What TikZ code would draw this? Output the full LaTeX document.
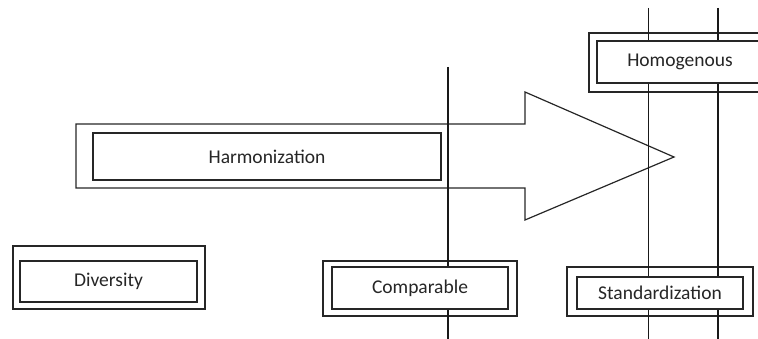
\documentclass[tikz,border=0pt]{standalone}
\usepackage{fontspec}
\setmainfont{Carlito}
\begin{document}
\begin{tikzpicture}[x=1pt,y=-1pt,
  outerbox/.style={draw=black!85,line width=1.2pt,rectangle,inner sep=0pt},
  innerbox/.style={draw=black!85,line width=1.2pt,rectangle,fill=white,inner sep=0pt,
    font=\fontsize{19.5}{22}\selectfont,text=black!85},
  vline/.style={draw=black!90,line width=1.2pt},
  arrowshape/.style={draw=black!85,line width=1.2pt}]
\useasboundingbox (0,0) rectangle (758,339);
\clip (0,0) rectangle (758,339);
% outer frames
\node[outerbox,minimum width=192pt,minimum height=63pt] (divO) at (109,277.5) {};
\node[outerbox,minimum width=194pt,minimum height=55pt] (compO) at (420,288.5) {};
\node[outerbox,minimum width=182pt,minimum height=59pt] (homO) at (680,62.5) {};
\node[outerbox,minimum width=186pt,minimum height=49pt] (stdO) at (660,291.5) {};
% harmonization arrow
\coordinate (a1) at (76,124);
\coordinate (a2) at (525,124);
\coordinate (a3) at (525,92);
\coordinate (tip) at (674,157);
\coordinate (a5) at (525,220);
\coordinate (a6) at (525,188);
\coordinate (a7) at (76,188);
\draw[arrowshape,line join=miter] (a1) -- (a2) -- (a3) -- (tip) -- (a5) -- (a6) -- (a7) -- cycle;
% vertical lines
\coordinate (v1t) at (448,67);
\coordinate (v1b) at (448,339);
\coordinate (v2t) at (648.5,8);
\coordinate (v2b) at (648.5,339);
\coordinate (v3t) at (718,8);
\coordinate (v3b) at (718,339);
\draw[vline] (v1t) -- (v1b);
\draw[vline] (v2t) -- (v2b);
\draw[vline] (v3t) -- (v3b);
% inner boxes with text
\node[innerbox,minimum width=348pt,minimum height=47pt] (harm) at (267,156.5) {Harmonization};
\node[innerbox,minimum width=177pt,minimum height=41pt] (div) at (108.5,281.5) {Diversity};
\node[innerbox,minimum width=176pt,minimum height=42pt] (comp) at (420,288) {Comparable};
\node[innerbox,minimum width=166pt,minimum height=42pt] (hom) at (680,62) {Homogenous};
\node[innerbox,minimum width=166pt,minimum height=32pt] (std) at (660,293) {Standardization};
\end{tikzpicture}
\end{document}
